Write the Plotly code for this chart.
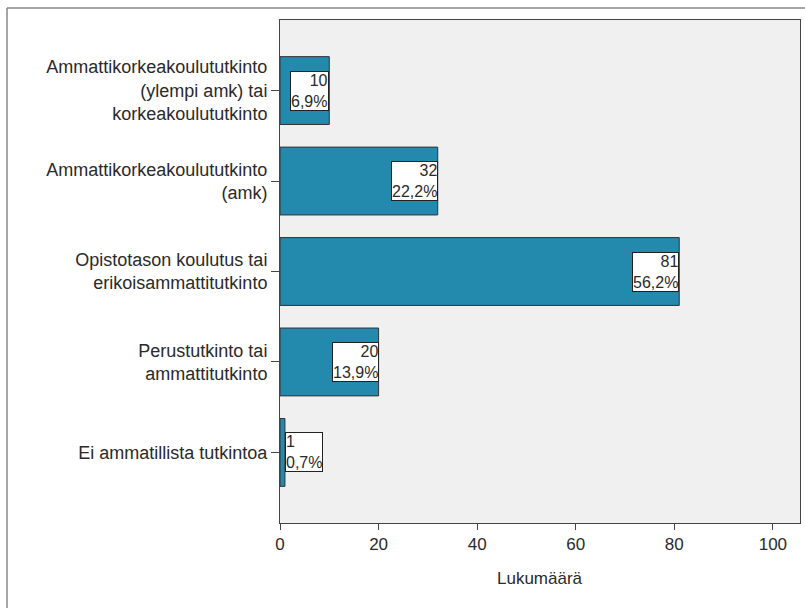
import plotly.graph_objects as go

categories = [
    "Ammattikorkeakoulututkinto<br>(ylempi amk) tai<br>korkeakoulututkinto",
    "Ammattikorkeakoulututkinto<br>(amk)",
    "Opistotason koulutus tai<br>erikoisammattitutkinto",
    "Perustutkinto tai<br>ammattitutkinto",
    "Ei ammatillista tutkintoa",
]
counts = [10, 32, 81, 20, 1]
percents = ["6,9%", "22,2%", "56,2%", "13,9%", "0,7%"]
x_ticks = [0, 20, 40, 60, 80, 100]

ypos = list(range(len(categories)))
bar_color = "#2389ad"
font_family = "Liberation Sans, Arial, sans-serif"
text_color = "#2a2a2a"

fig = go.Figure()
fig.add_trace(go.Bar(
    x=counts, y=ypos, orientation="h", width=0.75,
    marker=dict(color=bar_color, line=dict(color="#333333", width=1)),
    hoverinfo="skip",
))

annotations = []
for i, (c, p) in enumerate(zip(counts, percents)):
    inside = c >= 5
    annotations.append(dict(
        x=c, y=i, xref="x", yref="y",
        text=f"{c}<br>{p}", showarrow=False,
        xanchor="right" if inside else "left",
        align="right" if inside else "left",
        bgcolor="white", bordercolor="#222222", borderwidth=1, borderpad=0,
        font=dict(family=font_family, size=16, color=text_color),
    ))

annotations.append(dict(
    x=0.5, y=0, xref="paper", yref="paper", text="Lukumäärä",
    showarrow=False, xanchor="center", yanchor="middle", yshift=-55,
    font=dict(family=font_family, size=17, color=text_color),
))

fig.update_layout(
    width=805, height=608,
    margin=dict(l=280, r=5, t=20, b=85),
    paper_bgcolor="white", plot_bgcolor="#f0f0f0",
    showlegend=False,
    font=dict(family=font_family, size=17, color=text_color),
    annotations=annotations,
    shapes=[
        dict(type="line", xref="paper", yref="paper", x0=-0.525, x1=1.1,
             y0=1.0239, y1=1.0239, line=dict(color="#888888", width=1.5)),
        dict(type="line", xref="paper", yref="paper", x0=-0.525, x1=-0.525,
             y0=1.0239, y1=-0.2, line=dict(color="#888888", width=1.5)),
    ],
)
fig.update_xaxes(
    range=[0, 105.5], tickvals=x_ticks, showgrid=False, zeroline=False,
    showline=True, linecolor="#444444", linewidth=1, mirror=True,
    ticks="outside", ticklen=6, tickcolor="#444444",
    tickfont=dict(family=font_family, size=17, color=text_color),
)
fig.update_yaxes(
    range=[4.78, -0.78], tickvals=ypos, ticktext=categories, showgrid=False,
    zeroline=False, showline=True, linecolor="#444444", linewidth=1, mirror=True,
    ticks="outside", ticklen=8, tickcolor="#444444",
    tickfont=dict(family=font_family, size=18, color=text_color),
)

fig.write_html("out.html", config={"displayModeBar": False},
               post_script="document.body.style.margin='0';")
